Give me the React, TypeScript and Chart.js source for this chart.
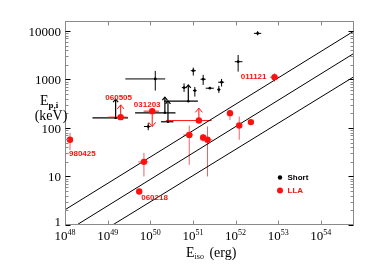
import React, { useEffect, useRef } from "react";
import { Chart, registerables } from "chart.js";
Chart.register(...registerables);

// ---------- axes ----------
const xMin = 1e48;
const xMax = 6e54;
const yMin = 1;
const yMax = 16000;
const xTickExps = [48, 49, 50, 51, 52, 53, 54];
const yTickValues = [1, 10, 100, 1000, 10000];
const yTickLabels = ["1", "10", "100", "1000", "10000"];

// ---------- Ep,i - Eiso relation lines ----------
const lineX = [1e48, 6e54];
const upperLineY = [2.06, 9950];
const centralLineY = [0.71, 3450];
const lowerLineY = [0.25, 1140];

// ---------- Short GRBs (measured) ----------
const shortX = [3.3e52, 1.15e52, 1.31e50, 1.02e51, 1.74e51, 6.2e50, 1.11e51, 2.5e51, 4.06e51, 4.7e51, 8.95e49];
const shortY = [8900, 2320, 1024, 1515, 1010, 678, 588, 659, 617, 876, 107];
const shortXLo = [2.7e52, 9.6e51, 2.6e49, 8.9e50, 1.51e51, 5.5e50, 1.0e51, 2.0e51, 3.75e51, 3.9e51, 7.1e49];
const shortXHi = [4.0e52, 1.45e52, 2.24e50, 1.17e51, 2.0e51, 7.0e50, 1.22e51, 3.1e51, 4.4e51, 5.4e51, 1.02e50];
const shortYLo = [8100, 1450, 590, 1200, 770, 553, 443, 640, 527, 714, 90];
const shortYHi = [9900, 3190, 1500, 1750, 1240, 830, 701, 680, 735, 1024, 126];

// ---------- Short GRBs (lower limits on Ep,i) ----------
const shortLimX = [1.54e49, 2.2e50, 2.6e50, 7.8e50];
const shortLimY = [161, 205, 134, 356];
const shortLimXLo = [4.4e48, 4.4e49, 1.78e50, 2.1e50];
const shortLimXHi = [3.0e49, 3.9e50, 3.5e50, 1.31e51];
const shortLimTip = [392, 430, 361, 771];

// ---------- LLA GRBs (measured) ----------
const llaX = [1.31e48, 8.2e50, 1.74e51, 2.2e51, 7.4e51, 1.22e52, 2.29e52, 8.2e52, 7.1e49, 5.5e49];
const llaY = [57, 72, 63.4, 57, 202, 112, 132, 1110, 20, 4.9];
const llaXLo = [null, 5.9e50, 1.6e51, 1.5e51, null, null, 2.05e52, 6.4e52, 5.2e49, null];
const llaXHi = [null, 1.02e51, 1.9e51, 2.9e51, null, null, 2.55e52, 1.04e53, 9.0e49, null];
const llaYLo = [35, 17.4, 52.5, 10, 147, 57, null, 900, 10, null];
const llaYHi = [79, 112, 74.5, 107, 236, 172, null, 1340, 30.7, null];

// ---------- LLA GRBs (limits) ----------
const llaLimX = [2.02e49, 1.11e50, 1.38e51];
const llaLimY = [167, 222, 142];
const llaLimXLo = [1.04e49, 7.0e49, 2.33e50];
const llaLimXHi = [2.9e49, 1.6e50, 2.74e51];
const llaLimTip = [299, 107, 256];

// ---------- GRB names ----------
const grbNames = ["980425", "060505", "031203", "060218", "011121"];
const legendNames = ["Short", "LLA"];

const SERIF = '"Liberation Serif", "DejaVu Serif", serif';
const SANS = '"Liberation Sans", Arial, sans-serif';
const RED = "#ff1010";
const RED_ERR = "rgba(225,50,50,0.75)";

const toPts = (xs: number[], ys: number[]) => xs.map((v, i) => ({ x: v, y: ys[i] }));

const errorSets = [
  { xs: shortX, ys: shortY, xLo: shortXLo, xHi: shortXHi, yLo: shortYLo, yHi: shortYHi, tip: null, color: "#000", head: 2.5, width: 1 },
  { xs: shortLimX, ys: shortLimY, xLo: shortLimXLo, xHi: shortLimXHi, yLo: null, yHi: null, tip: shortLimTip, color: "#000", head: 2.5, width: 1.2 },
  { xs: llaX, ys: llaY, xLo: llaXLo, xHi: llaXHi, yLo: llaYLo, yHi: llaYHi, tip: null, color: RED_ERR, head: 3.5, width: 1 },
  { xs: llaLimX, ys: llaLimY, xLo: llaLimXLo, xHi: llaLimXHi, yLo: null, yHi: null, tip: llaLimTip, color: RED, head: 3.5, width: 1 },
];

const seg = (ctx: CanvasRenderingContext2D, x1: number, y1: number, x2: number, y2: number) => {
  ctx.beginPath();
  ctx.moveTo(x1, y1);
  ctx.lineTo(x2, y2);
  ctx.stroke();
};

const decorPlugin = {
  id: "decor",
  beforeDatasetsDraw(chart: any) {
    const { ctx, chartArea: a } = chart;
    const xs = chart.scales.x;
    const ys = chart.scales.y;
    ctx.save();
    ctx.beginPath();
    ctx.rect(a.left, a.top, a.right - a.left, a.bottom - a.top);
    ctx.clip();
    errorSets.forEach((s) => {
      ctx.strokeStyle = s.color;
      ctx.lineWidth = s.width;
      s.xs.forEach((xv, i) => {
        const px = xs.getPixelForValue(xv);
        const py = ys.getPixelForValue(s.ys[i]);
        if (s.xLo && s.xLo[i] != null && s.xHi && s.xHi[i] != null) {
          seg(ctx, xs.getPixelForValue(s.xLo[i] as number), py, xs.getPixelForValue(s.xHi[i] as number), py);
        }
        if (s.yLo && s.yLo[i] != null && s.yHi && s.yHi[i] != null) {
          seg(ctx, px, ys.getPixelForValue(s.yLo[i] as number), px, ys.getPixelForValue(s.yHi[i] as number));
        }
        if (s.tip) {
          const ty = ys.getPixelForValue(s.tip[i]);
          seg(ctx, px, py, px, ty);
          const dir = ty < py ? 1 : -1;
          const h = s.head;
          ctx.beginPath();
          ctx.moveTo(px - h, ty + dir * h * 1.2);
          ctx.lineTo(px, ty);
          ctx.lineTo(px + h, ty + dir * h * 1.2);
          ctx.stroke();
        }
      });
    });
    ctx.restore();
  },
  afterDraw(chart: any) {
    const { ctx, chartArea: a } = chart;
    const xs = chart.scales.x;
    const ys = chart.scales.y;
    const L = Math.round(a.left) + 0.5;
    const R = Math.round(a.right) - 0.5;
    const T = Math.round(a.top) + 0.5;
    const B = Math.round(a.bottom) - 0.5;
    ctx.save();
    // frame
    ctx.strokeStyle = "#8a8a8a";
    ctx.lineWidth = 1;
    ctx.strokeRect(L, T, R - L, B - T);

    // y ticks (major + minor), both sides
    for (let d = 0; d <= 4; d++) {
      for (let m = 1; m <= 9; m++) {
        const v = m * Math.pow(10, d);
        if (v > yMax) continue;
        const py = Math.round(ys.getPixelForValue(v)) + 0.5;
        const major = m === 1;
        ctx.strokeStyle = major ? "#000" : "#8a8a8a";
        const len = major ? 5 : 3;
        seg(ctx, L, py, L + len, py);
        seg(ctx, R, py, R - len, py);
      }
    }
    // x ticks (decades), top and bottom
    ctx.strokeStyle = "#8a8a8a";
    xTickExps.forEach((e) => {
      const px = Math.round(xs.getPixelForValue(Math.pow(10, e))) + 0.5;
      seg(ctx, px, B, px, B - 4);
      seg(ctx, px, T, px, T + 4);
    });

    // y tick labels
    ctx.fillStyle = "#000";
    ctx.font = `13px ${SERIF}`;
    ctx.textAlign = "right";
    ctx.textBaseline = "alphabetic";
    yTickValues.forEach((v, i) => {
      const py = ys.getPixelForValue(v);
      ctx.fillText(yTickLabels[i], a.left - 4, Math.min(py + 5, a.bottom + 1));
    });

    // x tick labels 10^n
    xTickExps.forEach((e) => {
      const px = xs.getPixelForValue(Math.pow(10, e));
      ctx.font = `13px ${SERIF}`;
      const w1 = ctx.measureText("10").width;
      ctx.font = `8px ${SERIF}`;
      const w2 = ctx.measureText(String(e)).width;
      const x0 = px - (w1 + w2) / 2;
      ctx.textAlign = "left";
      ctx.font = `13px ${SERIF}`;
      ctx.fillText("10", x0, a.bottom + 15);
      ctx.font = `8px ${SERIF}`;
      ctx.fillText(String(e), x0 + w1, a.bottom + 10);
    });

    // x title: E_iso (erg)
    ctx.textAlign = "left";
    ctx.font = `14px ${SERIF}`;
    let tx = 186;
    const tb = a.bottom + 32;
    ctx.fillText("E", tx, tb);
    tx += ctx.measureText("E").width;
    ctx.font = `8px ${SERIF}`;
    ctx.fillText("iso", tx, tb + 2);
    tx += ctx.measureText("iso").width;
    ctx.font = `14px ${SERIF}`;
    ctx.fillText(" (erg)", tx + 2, tb);

    // y title: E_p,i (keV)
    ctx.font = `14px ${SERIF}`;
    ctx.fillText("E", 40, 105);
    const ew = ctx.measureText("E").width;
    ctx.font = `bold 9px ${SERIF}`;
    ctx.fillText("p,i", 40 + ew, 108);
    ctx.font = `14px ${SERIF}`;
    ctx.textAlign = "center";
    ctx.fillText("(keV)", 51, 120);

    // GRB names
    ctx.fillStyle = RED;
    ctx.font = `bold 8px ${SANS}`;
    ctx.textBaseline = "middle";
    const anchors = [
      { x: llaX[0], y: llaY[0], dx: -1, dy: 14, align: "left" },
      { x: llaLimX[0], y: llaLimY[0], dx: -2, dy: -19, align: "center" },
      { x: llaLimX[1], y: llaLimY[1], dx: -5, dy: -6, align: "center" },
      { x: llaX[9], y: llaY[9], dx: 2, dy: 6.5, align: "left" },
      { x: llaX[7], y: llaY[7], dx: -8, dy: 0, align: "right" },
    ];
    anchors.forEach((an, i) => {
      ctx.textAlign = an.align;
      ctx.fillText(grbNames[i], xs.getPixelForValue(an.x) + an.dx, ys.getPixelForValue(an.y) + an.dy);
    });

    // legend
    const lx = a.left + 215;
    const ly = a.top + 156.5;
    ctx.textAlign = "left";
    ctx.fillStyle = "#000";
    ctx.beginPath();
    ctx.arc(lx, ly, 2.2, 0, Math.PI * 2);
    ctx.fill();
    ctx.fillText(legendNames[0], lx + 7.5, ly);
    ctx.fillStyle = RED;
    ctx.beginPath();
    ctx.arc(lx, ly + 13, 3, 0, Math.PI * 2);
    ctx.fill();
    ctx.fillText(legendNames[1], lx + 7.5, ly + 13);
    ctx.restore();
  },
};

export default function App() {
  const ref = useRef<HTMLCanvasElement | null>(null);
  useEffect(() => {
    if (!ref.current) return;
    const lineDs = (ys: number[]) => ({
      data: toPts(lineX, ys),
      showLine: true,
      borderColor: "#000",
      borderWidth: 1,
      pointRadius: 0,
      order: 10,
    });
    const chart = new Chart(ref.current, {
      type: "scatter",
      data: {
        datasets: [
          lineDs(upperLineY),
          lineDs(centralLineY),
          lineDs(lowerLineY),
          {
            label: "Short",
            data: toPts(shortX, shortY),
            pointRadius: 1.4,
            pointBackgroundColor: "#000",
            pointBorderWidth: 0,
            order: 1,
          },
          {
            label: "Short limits",
            data: toPts(shortLimX, shortLimY),
            pointRadius: 1.2,
            pointBackgroundColor: "#000",
            pointBorderWidth: 0,
            order: 1,
          },
          {
            label: "LLA",
            data: toPts(llaX, llaY),
            pointRadius: 3.2,
            pointBackgroundColor: RED,
            pointBorderWidth: 0,
            order: 0,
          },
          {
            label: "LLA limits",
            data: toPts(llaLimX, llaLimY),
            pointRadius: 3.2,
            pointBackgroundColor: RED,
            pointBorderWidth: 0,
            order: 0,
          },
        ] as any,
      },
      options: {
        animation: false,
        responsive: false,
        devicePixelRatio: 1,
        layout: { padding: { left: 65, right: 20, top: 21, bottom: 42 } },
        plugins: { legend: { display: false }, tooltip: { enabled: false } },
        scales: {
          x: { type: "logarithmic", min: xMin, max: xMax, display: false },
          y: { type: "logarithmic", min: yMin, max: yMax, display: false },
        },
      } as any,
      plugins: [decorPlugin as any],
    });
    return () => chart.destroy();
  }, []);
  return (
    <div style={{ position: "fixed", left: 0, top: 0, width: 374, height: 267, background: "#fff" }}>
      <canvas ref={ref} width={374} height={267} style={{ display: "block" }} />
    </div>
  );
}
